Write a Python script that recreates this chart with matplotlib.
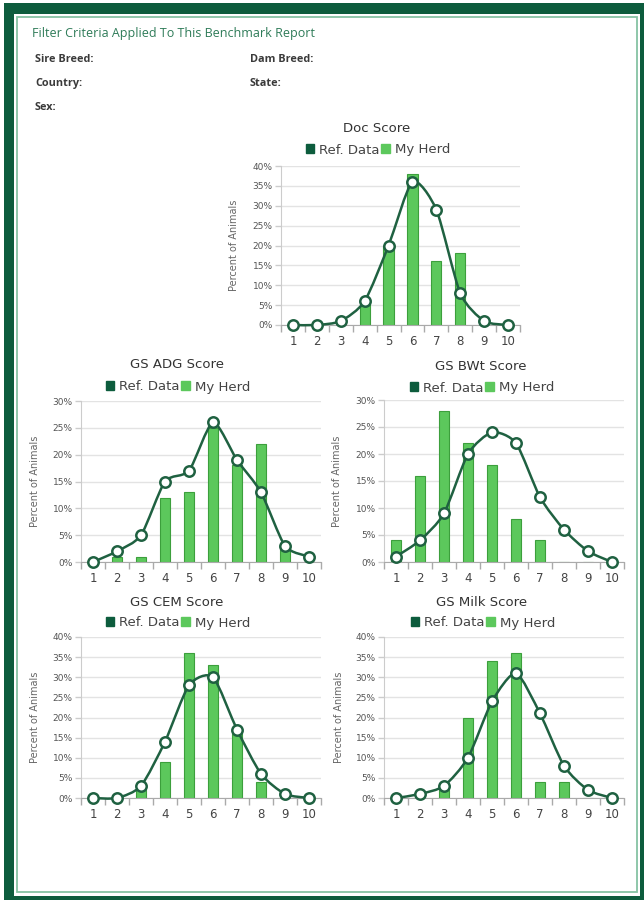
import matplotlib
matplotlib.use("Agg")
import matplotlib.pyplot as plt
from matplotlib.patches import Rectangle, Patch, PathPatch
from matplotlib.path import Path

# ---- data (percent of animals per score) ----
scores = [1, 2, 3, 4, 5, 6, 7, 8, 9, 10]

doc_ref = [0, 0, 1, 6, 20, 36, 29, 8, 1, 0]
doc_herd = [0, 0, 0, 6, 20, 38, 16, 18, 0, 0]
adg_ref = [0, 2, 5, 15, 17, 26, 19, 13, 3, 1]
adg_herd = [0, 1, 1, 12, 13, 25, 18, 22, 3, 0]
bwt_ref = [1, 4, 9, 20, 24, 22, 12, 6, 2, 0]
bwt_herd = [4, 16, 28, 22, 18, 8, 4, 0, 0, 0]
cem_ref = [0, 0, 3, 14, 28, 30, 17, 6, 1, 0]
cem_herd = [0, 0, 2, 9, 36, 33, 16, 4, 0, 0]
milk_ref = [0, 1, 3, 10, 24, 31, 21, 8, 2, 0]
milk_herd = [0, 0, 2, 20, 34, 36, 4, 4, 0, 0]

titles = ["Doc Score", "GS ADG Score", "GS BWt Score", "GS CEM Score", "GS Milk Score"]
y_max = [40, 30, 30, 40, 40]

filter_title = "Filter Criteria Applied To This Benchmark Report"
filter_left = ["Sire Breed:", "Country:", "Sex:"]
filter_right = ["Dam Breed:", "State:"]

W, H = 644, 900
DARK = "#0d5c3d"
LINE = "#1f6141"
BAR = "#5cc85c"
BAR_EDGE = "#3c9f3c"


def fx(px):
    return px / W


def fy(py):
    return 1 - py / H


def spline_path(xs, ys, k=0.7):
    # cardinal spline drawn as cubic bezier segments through the points
    n = len(xs)
    pts = list(zip(xs, ys))
    verts = [pts[0]]
    codes = [Path.MOVETO]
    for i in range(n - 1):
        p0 = pts[i - 1] if i > 0 else pts[i]
        p1 = pts[i]
        p2 = pts[i + 1]
        p3 = pts[i + 2] if i + 2 < n else pts[i + 1]
        c1 = (p1[0] + k * (p2[0] - p0[0]) / 6, p1[1] + k * (p2[1] - p0[1]) / 6)
        c2 = (p2[0] - k * (p3[0] - p1[0]) / 6, p2[1] - k * (p3[1] - p1[1]) / 6)
        verts += [c1, c2, p2]
        codes += [Path.CURVE4] * 3
    return Path(verts, codes)


fig = plt.figure(figsize=(W / 100, H / 100), dpi=100)

# frame
fig.patches.append(Rectangle((fx(4), fy(900)), fx(640), 897 / H, transform=fig.transFigure,
                             facecolor=DARK, edgecolor="none", zorder=-3))
fig.patches.append(Rectangle((fx(14), fy(896)), fx(626), 882 / H, transform=fig.transFigure,
                             facecolor="white", edgecolor="none", zorder=-2))
fig.patches.append(Rectangle((fx(17), fy(892)), fx(620), 875 / H, transform=fig.transFigure,
                             facecolor="none", edgecolor="#86c3a4", lw=1.3, zorder=-1))

fig.text(fx(32), fy(34), filter_title, family="Open Sans", fontsize=9, color="#2e7b58",
         va="center")
for i, t in enumerate(filter_left):
    fig.text(fx(35), fy(60 + i * 23.5), t, family="Open Sans", fontsize=7.8, weight="bold",
             color="#3a3a3a", va="center")
for i, t in enumerate(filter_right):
    fig.text(fx(250), fy(60 + i * 23.5), t, family="Open Sans", fontsize=7.8, weight="bold",
             color="#3a3a3a", va="center")

series = [(doc_ref, doc_herd), (adg_ref, adg_herd), (bwt_ref, bwt_herd),
          (cem_ref, cem_herd), (milk_ref, milk_herd)]

# pixel layout: axes left, right, top, bottom, title centre x, title y, legend y, ylabel x
layout = [
    (281, 520, 166, 325, 377, 129, 150, 234),
    (81, 321, 401, 562, 177, 365, 387, 35),
    (384, 624, 400, 562, 481, 366, 388, 337),
    (81, 321, 637, 798, 177, 602, 623, 35),
    (384, 624, 637, 798, 482, 602, 623, 339),
]

for (ref, herd), title, ym, (l, r, t, b, tx, ty, ly, yx) in zip(series, titles, y_max, layout):
    ax = fig.add_axes([fx(l), fy(b), (r - l) / W, (b - t) / H])
    ax.patch.set_alpha(0)
    ax.bar(scores, herd, width=0.43, color=BAR, edgecolor=BAR_EDGE, lw=0.8, zorder=2)
    ax.add_patch(PathPatch(spline_path(scores, ref), facecolor="none", edgecolor=LINE,
                           lw=1.8, zorder=3, clip_on=False))
    ax.plot(scores, ref, "o", ms=7.5, mfc="white", mec=LINE, mew=1.8, zorder=4, clip_on=False)
    ax.set_xlim(0.5, 10.5)
    ax.set_ylim(0, ym)
    ax.set_yticks(range(0, ym + 1, 5))
    ax.set_yticklabels([f"{v}%" for v in range(0, ym + 1, 5)])
    ax.set_xticks(scores)
    ax.set_xticks([s - 0.5 for s in scores] + [10.5], minor=True)
    ax.tick_params(axis="x", which="major", length=0, pad=7, labelsize=8.5, labelcolor="#444444")
    ax.tick_params(axis="x", which="minor", length=5, color="#aaaaaa", width=1)
    ax.tick_params(axis="y", length=4, color="#cccccc", width=1, pad=2, labelsize=6.5,
                   labelcolor="#555555")
    ax.grid(axis="y", color="#e3e3e3", lw=1, zorder=0)
    ax.set_axisbelow(True)
    for s in ["top", "right"]:
        ax.spines[s].set_visible(False)
    ax.spines["bottom"].set_color("#aaaaaa")
    ax.spines["left"].set_color("#cccccc")
    fig.text(fx(tx), fy(ty), title, fontsize=9.5, color="#333333", ha="center", va="center")
    fig.text(fx(yx), fy((t + b) / 2), "Percent of Animals", fontsize=7, color="#666666",
             rotation=90, ha="center", va="center")
    handles = [Patch(color=DARK, label="Ref. Data"), Patch(color=BAR, label="My Herd")]
    fig.legend(handles=handles, loc="center", bbox_to_anchor=(fx(tx + 1), fy(ly)), ncol=2,
               frameon=False, fontsize=9.5, handlelength=0.65, handleheight=0.65,
               handletextpad=0.4, columnspacing=0.1, borderpad=0, labelcolor="#444444")

fig.savefig("out.png", dpi=100)
